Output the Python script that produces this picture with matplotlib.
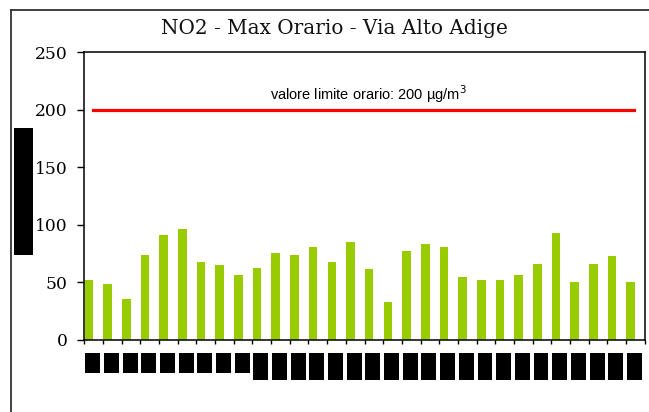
import matplotlib
matplotlib.use("Agg")
import matplotlib.pyplot as plt
import matplotlib.transforms as mtransforms
from matplotlib.patches import Rectangle
from matplotlib.lines import Line2D
import numpy as np

title = "NO2 - Max Orario - Via Alto Adige"
days = [str(d) for d in range(1, 31)]
no2_max = [51.8, 48.6, 35.9, 73.8, 91.5, 96.4, 67.7, 64.9, 56.4, 62.8,
           75.6, 73.8, 80.5, 67.7, 85.1, 61.4, 32.7, 77.3, 83.6, 80.5,
           55.0, 51.8, 51.8, 56.4, 66.0, 93.2, 50.1, 66.0, 72.7, 50.1]
limit_value = 200
limit_label = "valore limite orario: 200 µg/m$^3$"
y_ticks = [0, 50, 100, 150, 200, 250]
y_label = "µg/m³"

W, H = 649, 412
fig = plt.figure(figsize=(W / 100, H / 100), dpi=100)
fig.patch.set_facecolor("white")

ax = fig.add_axes([84.3 / W, 1 - 340 / H, (644.7 - 84.3) / W, (340 - 52.2) / H])

x = np.arange(len(no2_max))
ax.bar(x + 0.02, no2_max, width=0.46, align="edge", color="#99CC00", edgecolor="none", zorder=2)
ax.plot(x + 0.45, [limit_value] * len(x), color="#FF0000", lw=2.3, solid_capstyle="projecting", zorder=3)
ax.text(15.19, 213.5, limit_label, ha="center", va="center", fontsize=10.5,
        family="Liberation Sans", color="black")

ax.set_xlim(0, len(no2_max))
ax.set_ylim(0, 250)
ax.set_xticks(np.arange(len(no2_max) + 1))
ax.set_xticklabels([])
ax.set_yticks(y_ticks)
ax.set_yticklabels([str(v) for v in y_ticks], family="DejaVu Serif", fontsize=12.3)
ax.tick_params(axis="y", direction="out", length=5, width=1, pad=7, color="black")
ax.tick_params(axis="x", direction="out", length=3, width=1, color="black")
for s in ax.spines.values():
    s.set_linewidth(1.1)
    s.set_color("black")

# redacted category labels (black boxes)
trans = mtransforms.blended_transform_factory(ax.transData, ax.transAxes)
for i, d in enumerate(days):
    top = -0.045
    bottom = -0.116 if len(d) == 1 else -0.139
    ax.add_patch(Rectangle((i + 0.05, bottom), 0.8, top - bottom, transform=trans,
                           facecolor="black", edgecolor="none", clip_on=False))
    ax.text(i + 0.45, (top + bottom) / 2, d, transform=trans, ha="center", va="center",
            fontsize=7, color="black", clip_on=False)

# redacted y-axis label
fig.patches.append(Rectangle((14 / W, 1 - 255 / H), 19 / W, 127 / H, transform=fig.transFigure,
                             facecolor="black", edgecolor="none"))
fig.text(23.5 / W, 1 - 191.5 / H, y_label, rotation=90, ha="center", va="center",
         fontsize=9, color="black")

# title
fig.text(334.5 / W, 1 - 28 / H, title, ha="center", va="center",
         family="DejaVu Serif", fontsize=14.4, color="#111111")

# chart area border (extends beyond the image on right/bottom)
fig.lines.append(Line2D([11 / W, 1.01], [1 - 9.5 / H, 1 - 9.5 / H], transform=fig.transFigure,
                        color="#333333", lw=1.3))
fig.lines.append(Line2D([11 / W, 11 / W], [1 - 9.5 / H, -0.01], transform=fig.transFigure,
                        color="#333333", lw=1.3))

fig.savefig("out.png", dpi=100)
